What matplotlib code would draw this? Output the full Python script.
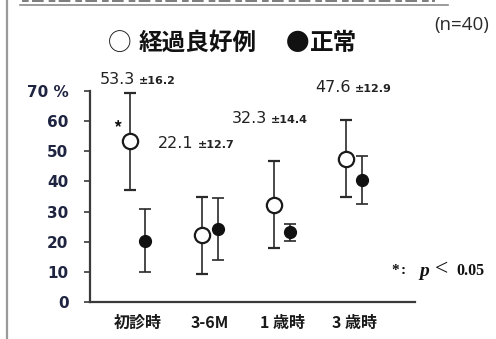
import matplotlib
matplotlib.use("Agg")
import matplotlib.pyplot as plt
from matplotlib.lines import Line2D
import numpy as np

plt.rcParams['font.family'] = ['Noto Sans CJK JP', 'DejaVu Sans']

# Data: mean ± SD (%) at each follow-up point
categories = ["初診時", "3-6M", "1 歳時", "3 歳時"]
good_mean = [53.3, 22.1, 32.3, 47.6]
good_sd = [16.2, 12.7, 14.4, 12.9]
normal_mean = [20.3, 24.2, 23.1, 40.5]
normal_sd = [10.4, 10.3, 2.8, 8.0]
yticks = [0, 10, 20, 30, 40, 50, 60, 70]
ytick_labels = ["0", "10", "20", "30", "40", "50", "60", "70 %"]

W, H = 496, 339
fig = plt.figure(figsize=(W / 100, H / 100), dpi=100)
fig.patch.set_facecolor("white")

ax = fig.add_axes([90 / W, 1 - 302 / H, (415 - 90) / W, (302 - 91) / H])
ax.set_facecolor("none")

x = np.arange(len(categories))
off = 0.11
ink = "#2a2a2a"

ax.errorbar(x - off, good_mean, yerr=good_sd, fmt="o", ms=11, mfc="white",
            mec="#1a1a1a", mew=1.6, ecolor=ink, elinewidth=1.2, capsize=4.3,
            capthick=1.2, zorder=3)
ax.errorbar(x + off, normal_mean, yerr=normal_sd, fmt="o", ms=8.5, mfc="#111111",
            mec="#111111", ecolor=ink, elinewidth=1.2, capsize=4.3,
            capthick=1.2, zorder=3)

ax.set_xlim(-0.657, 3.838)
ax.set_ylim(0, 70)
for s in ["top", "right"]:
    ax.spines[s].set_visible(False)
for s in ["left", "bottom"]:
    ax.spines[s].set_color("#3a3a3a")
    ax.spines[s].set_linewidth(1.6)

ax.set_yticks(yticks)
ax.set_yticklabels(ytick_labels, fontsize=11, color="#1f2540", fontweight="bold",
                   family="DejaVu Sans")
ax.tick_params(axis="y", direction="out", length=4.5, width=1.2, color="#3a3a3a", pad=11)
ax.set_xticks(x)
ax.set_xticklabels(categories, fontsize=11.5, fontweight="bold", color="#1a1a1a")
ax.tick_params(axis="x", length=0, pad=9)

# Mean ± SD annotations above the open markers
ann_pos = [(100, 80), (158, 144), (232, 119), (315, 88)]
for (px, py), m, s in zip(ann_pos, good_mean, good_sd):
    t = fig.text(px / W, 1 - py / H, f"{m:.1f}", fontsize=11.5, color="#222222",
                 ha="left", va="center", family="DejaVu Sans")
    fig.canvas.draw()
    bb = t.get_window_extent()
    fig.text((bb.x1 + 4) / W, 1 - (py + 1) / H, f"±{s:.1f}", fontsize=8,
             color="#222222", ha="left", va="center", fontweight="bold",
             family="DejaVu Sans")

# significance mark
fig.text(117 / W, 1 - 128 / H, "*", fontsize=12, fontweight="bold",
         ha="center", va="center", color="#111111")
fig.text(391 / W, 1 - 271 / H, "*", fontsize=11, fontweight="bold",
         ha="left", va="center", color="#111111", family="Liberation Serif")
fig.text(401 / W, 1 - 271 / H, ":", fontsize=11, fontweight="bold",
         ha="left", va="center", color="#111111", family="Liberation Serif")
fig.text(419 / W, 1 - 272 / H, "p", fontsize=14, fontweight="bold", style="italic",
         ha="left", va="center", color="#111111", family="Liberation Serif")
fig.text(435 / W, 1 - 270 / H, "<", fontsize=17,
         ha="left", va="center", color="#111111", family="Liberation Serif")
fig.text(456 / W, 1 - 271 / H, "0.05", fontsize=11.5, fontweight="bold",
         ha="left", va="center", color="#111111", family="Liberation Serif")

# Legend line
fig.text(108 / W, 1 - 43 / H, "○", fontsize=17, ha="left", va="center",
         color="#111111")
fig.text(139 / W, 1 - 43 / H, "経過良好例", fontsize=17, fontweight="bold",
         ha="left", va="center", color="#111111")
fig.text(286 / W, 1 - 43 / H, "●", fontsize=17, ha="left", va="center",
         color="#111111")
fig.text(310 / W, 1 - 43 / H, "正常", fontsize=17, fontweight="bold",
         ha="left", va="center", color="#111111")
fig.text(489 / W, 1 - 25 / H, "(n=40)", fontsize=13.5, ha="right", va="center",
         color="#2a2a2a", family="Open Sans")

# page rules around the figure
fig.add_artist(Line2D([7 / W, 7 / W], [0, 1], color="#9a9a9a", lw=1.6))
fig.add_artist(Line2D([20 / W, 448 / W], [1 - 5 / H, 1 - 5 / H], color="#8a8a8a", lw=1.2))
fig.add_artist(Line2D([22 / W, 435 / W], [1 - 1 / H, 1 - 1 / H], color="#666666",
                      lw=1.2, ls=(0, (4, 2, 7, 3))))

fig.savefig("out.png", dpi=100, facecolor="white")
